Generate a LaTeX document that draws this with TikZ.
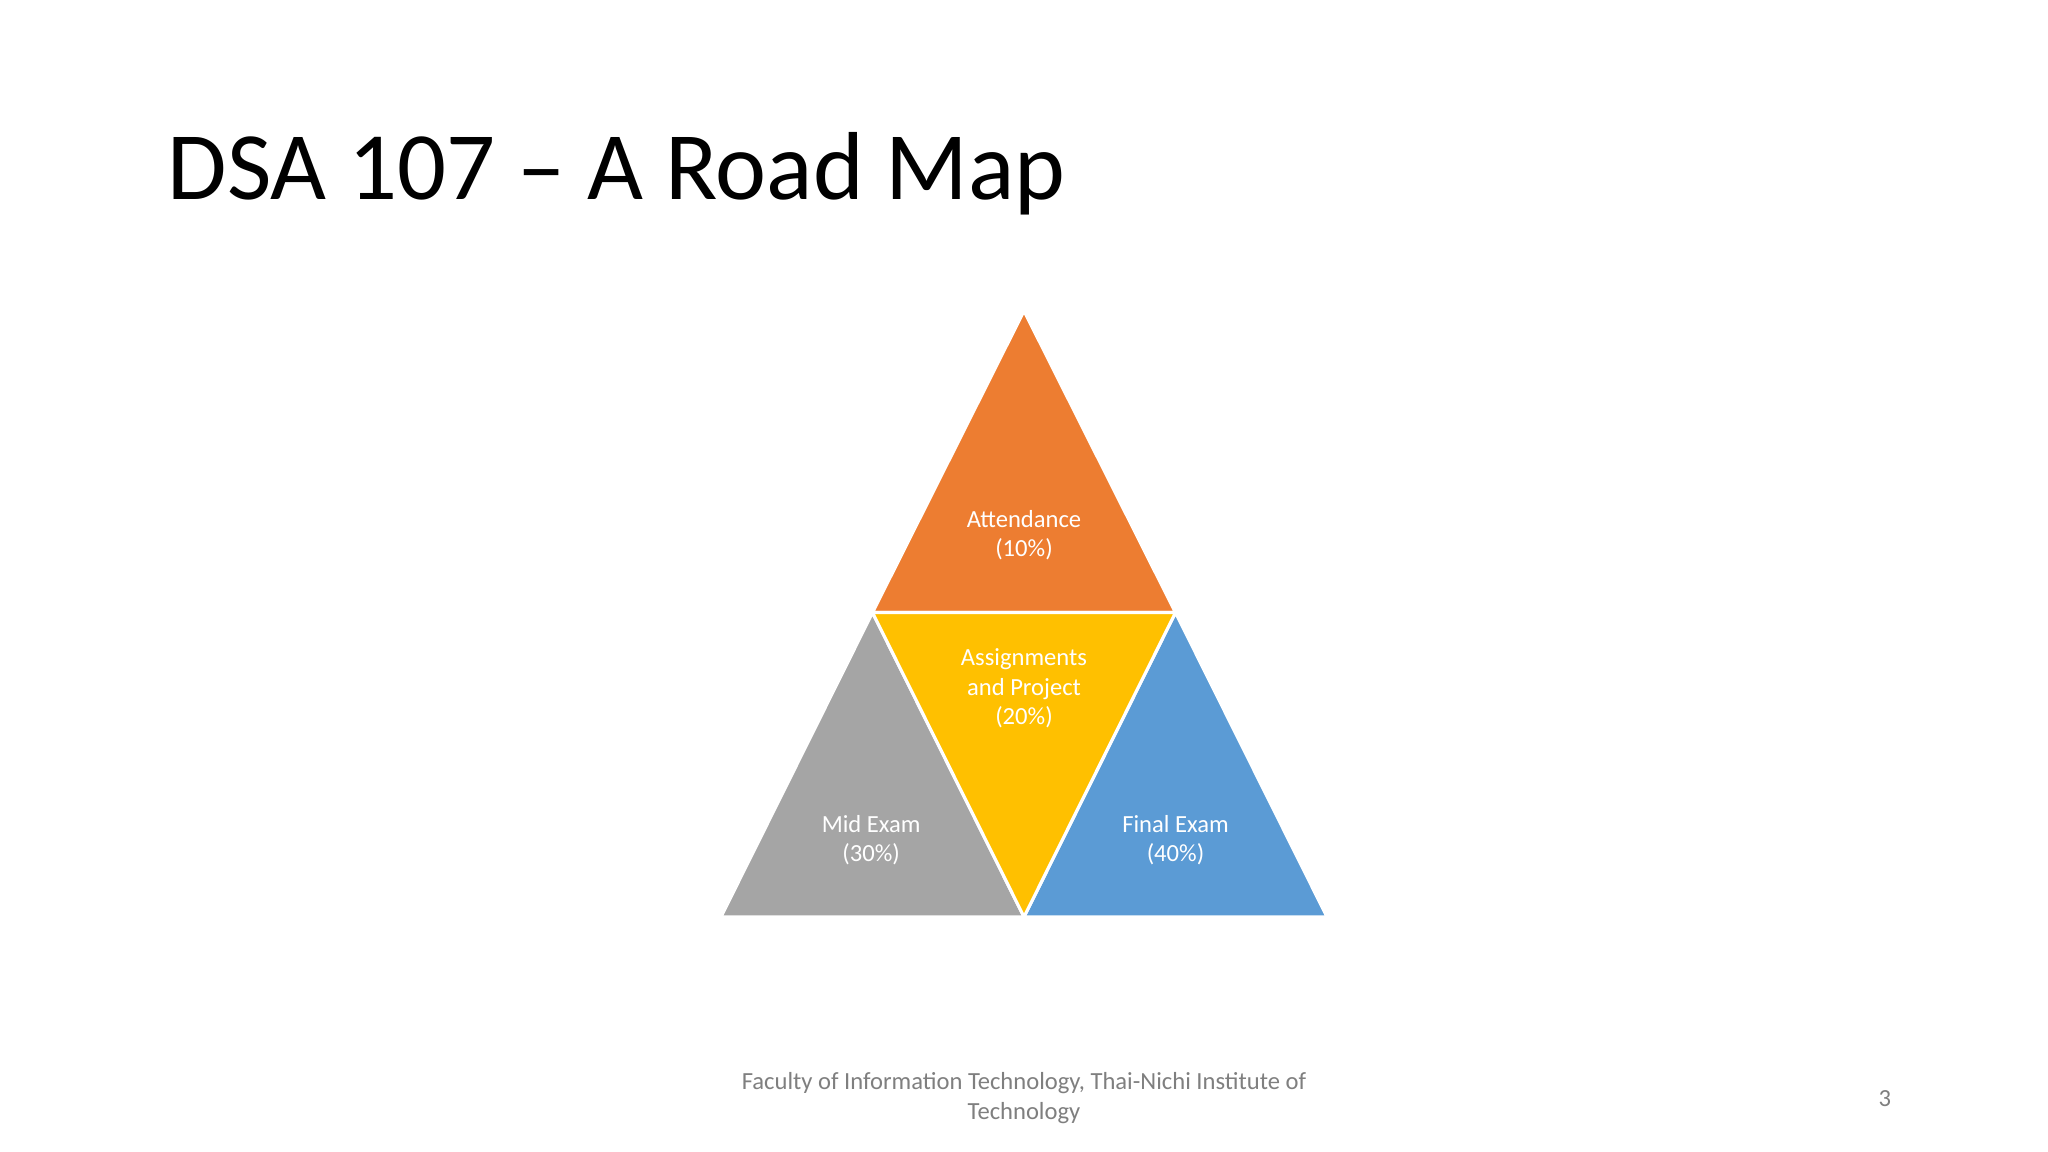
\documentclass[tikz,border=0pt]{standalone}
\usepackage{fontspec}
\setmainfont{Carlito}
\definecolor{orng}{HTML}{ED7D31}
\definecolor{yel}{HTML}{FFC000}
\definecolor{gry}{HTML}{A5A5A5}
\definecolor{blu}{HTML}{5B9BD5}
\definecolor{foot}{HTML}{7F7F7F}
\tikzset{tri/.style={draw=white,line width=0.9pt,line join=miter},
lbl/.style={text=white,align=center,font=\fontsize{7}{8.3}\selectfont},
ft/.style={text=foot,align=center,font=\fontsize{7}{8.6}\selectfont}}
\begin{document}
\begin{tikzpicture}[x=0.013061cm,y=-0.013061cm]
\useasboundingbox (0,0) rectangle (1568,882);
\fill[white] (0,0) rectangle (1568,882);
\coordinate (A) at (784,238);
\coordinate (L) at (668,469);
\coordinate (R) at (900,469);
\coordinate (BL) at (552,702);
\coordinate (BM) at (784,702);
\coordinate (BR) at (1016,702);
\filldraw[tri,fill=orng] (A) -- (L) -- (R) -- cycle;
\filldraw[tri,fill=gry] (L) -- (BL) -- (BM) -- cycle;
\filldraw[tri,fill=blu] (R) -- (BM) -- (BR) -- cycle;
\filldraw[tri,fill=yel] (L) -- (R) -- (BM) -- cycle;
\node[anchor=base west,font=\fontsize{27.5}{30}\selectfont] (title) at (119,153) {DSA 107 – A Road Map};
\node[lbl] (att) at (784,410) {Attendance\\(10\%)};
\node[lbl] (asg) at (784,527) {Assignments\\and Project\\(20\%)};
\node[lbl] (mid) at (667,643) {Mid Exam\\(30\%)};
\node[lbl] (fin) at (900,643) {Final Exam\\(40\%)};
\node[ft] (foot) at (784,841) {Faculty of Information Technology, Thai-Nichi Institute of\\Technology};
\node[ft] (pg) at (1443,841) {3};
\end{tikzpicture}
\end{document}
